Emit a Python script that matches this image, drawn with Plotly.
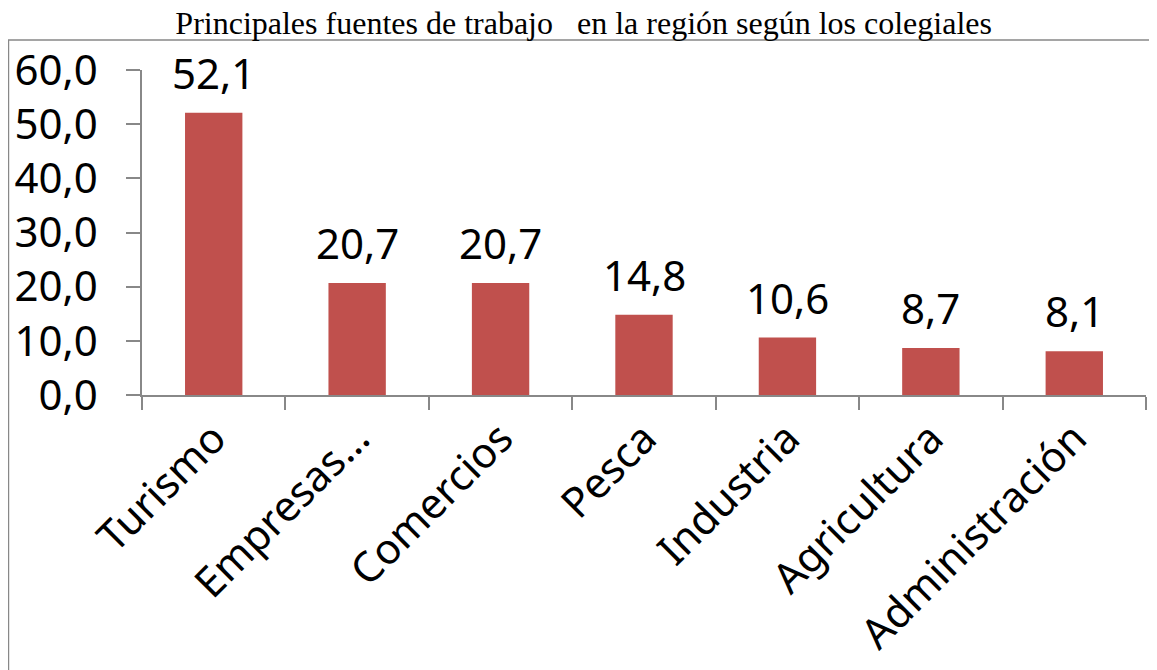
import plotly.graph_objects as go

categories = ["Turismo", "Empresas…", "Comercios", "Pesca", "Industria", "Agricultura", "Administración"]
values = [52.1, 20.7, 20.7, 14.8, 10.6, 8.7, 8.1]

label_font = dict(family="Noto Sans", size=42, color="black")

fig = go.Figure(go.Bar(
    x=categories, y=values,
    marker=dict(color="#C0504D", line=dict(width=0)),
    hoverinfo="x+y",
))

# value labels above the bars
for cat, val in zip(categories, values):
    fig.add_annotation(x=cat, y=val, text=f"{val:.1f}".replace(".", ","),
                       showarrow=False, yanchor="bottom", yshift=10,
                       font=label_font)

# page body has an 8px margin, so the figure is a bit smaller than the window
fig.update_layout(
    width=1149, height=662,
    margin=dict(l=134, r=11, t=62, b=275),
    paper_bgcolor="white", plot_bgcolor="white",
    separators=",.",
    bargap=0.6,
    showlegend=False,
    title=dict(text="Principales fuentes de trabajo   en la región según los colegiales",
               x=0.501, xanchor="center", y=0.977, yanchor="middle",
               font=dict(family="Liberation Serif", size=32, color="black")),
    shapes=[dict(type="rect", xref="paper", yref="paper",
                 x0=-0.133, x1=1.05, y0=-1.5, y1=1.092,
                 line=dict(color="#888888", width=1.5), layer="below")],
)

fig.update_yaxes(range=[0, 60], dtick=10, tickformat=".1f", automargin=False,
                 ticks="outside", ticklen=14, tickcolor="#888888", tickwidth=1.5,
                 showline=True, linecolor="#888888", linewidth=1.5,
                 showgrid=False, zeroline=False,
                 tickfont=label_font, ticklabelstandoff=20)
fig.update_xaxes(tickangle=-45, tickson="boundaries", automargin=False,
                 ticks="outside", ticklen=13, tickcolor="#888888", tickwidth=1.5,
                 showline=True, linecolor="#888888", linewidth=1.5,
                 showgrid=False, tickfont=label_font)

fig.write_html("out.html")
